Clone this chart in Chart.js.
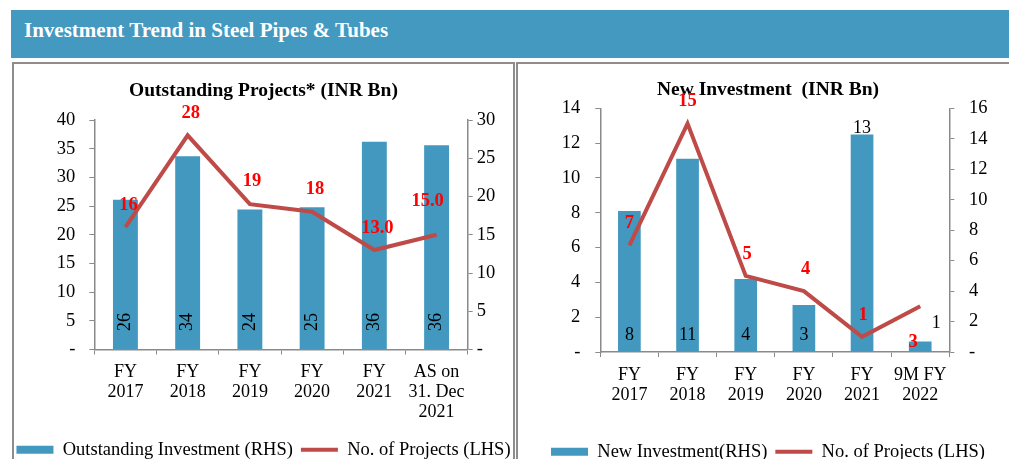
<!DOCTYPE html>
<html>
<head>
<meta charset="utf-8">
<script src="https://cdn.jsdelivr.net/npm/chart.js@4.4.1/dist/chart.umd.min.js"></script>
<style>
html,body{margin:0;padding:0;background:#fff;overflow:hidden;}
body{width:1009px;height:459px;position:relative;font-family:"Liberation Serif","Times New Roman",serif;}
#hdr{position:absolute;left:11px;top:10px;width:1000px;height:48px;background:#4399BF;}
#hdr span{position:absolute;left:13px;top:0;line-height:40px;font-size:21px;font-weight:bold;color:#fff;white-space:nowrap;}
.panel{position:absolute;top:62px;height:420px;border:2px solid #8d8d8d;box-sizing:border-box;}
#p1{left:12px;width:503px;}
#p2{left:516px;width:520px;}
canvas{position:absolute;top:64px;}
#c1{left:2px;}
#c2{left:518px;}
</style>
</head>
<body>
<div id="hdr"><span>Investment Trend in Steel Pipes &amp; Tubes</span></div>
<div class="panel" id="p1"></div>
<div class="panel" id="p2"></div>
<canvas id="c1" width="523" height="405"></canvas>
<canvas id="c2" width="500" height="407"></canvas>
<script>
// ---------- data ----------
const outstandingCategories = [['FY','2017'],['FY','2018'],['FY','2019'],['FY','2020'],['FY','2021'],['AS on','31. Dec','2021']];
const outstandingInvestment = [26.1, 33.7, 24.4, 24.8, 36.2, 35.6];
const outstandingProjects = [16, 28, 19, 18, 13, 15];
const outstandingProjectLabels = ['16','28','19','18','13.0','15.0'];

const newCategories = [['FY','2017'],['FY','2018'],['FY','2019'],['FY','2020'],['FY','2021'],['9M FY','2022']];
const newInvestment = [8.1, 11.1, 4.2, 2.7, 12.5, 0.6];
const newProjects = [7, 15, 5, 4, 1, 3];
const newProjectLabels = ['7','15','5','4','1','3'];

// ---------- styles ----------
const FONT = '"Liberation Serif","Times New Roman",serif';
const BAR = '#4298BE';
const LINE = '#BE4B48';
const GRID = '#8a8a8a';
const TXT = '#000';

const valueLabels = {
  id: 'valueLabels',
  afterDatasetsDraw(chart, args, opts) {
    const ctx = chart.ctx;
    (opts.items || []).forEach(item => {
      const meta = chart.getDatasetMeta(item.dataset);
      ctx.save();
      ctx.font = item.font;
      ctx.fillStyle = item.color;
      ctx.textAlign = 'center';
      ctx.textBaseline = 'middle';
      meta.data.forEach((el, i) => {
        const text = item.texts[i];
        const place = item.place[i];
        if (place.mode === 'rot') {
          ctx.save();
          ctx.translate(el.x + place.dx, el.base - place.dy);
          ctx.rotate(-Math.PI / 2);
          ctx.fillText(text, 0, 0);
          ctx.restore();
        } else if (place.mode === 'base') {
          ctx.fillText(text, el.x + place.dx, el.base - place.dy);
        } else {
          ctx.fillText(text, el.x + place.dx, el.y + place.dy);
        }
      });
      ctx.restore();
    });
  }
};

function yTick(v) { return v === 0 ? '-' : v; }

function legendLabels(chart) {
  return chart.data.datasets.map((ds, i) => ({
    text: ds.label,
    datasetIndex: i,
    fillStyle: ds.type === 'bar' ? ds.backgroundColor : 'rgba(0,0,0,0)',
    strokeStyle: ds.type === 'bar' ? ds.backgroundColor : ds.borderColor,
    lineWidth: ds.type === 'bar' ? 0 : 4,
    pointStyle: ds.type === 'bar' ? 'rect' : 'line',
    fontColor: TXT,
    hidden: false
  }));
}

function buildChart(id, cfg) {
  return new Chart(document.getElementById(id), {
    data: {
      labels: cfg.categories,
      datasets: [
        { type: 'bar', label: cfg.barLabel, data: cfg.bars, yAxisID: 'yL', backgroundColor: BAR,
          borderWidth: 0, barPercentage: cfg.barPct, categoryPercentage: 1, order: 2 },
        { type: 'line', label: 'No. of Projects (LHS)', data: cfg.line, yAxisID: 'yR', borderColor: LINE,
          backgroundColor: LINE, borderWidth: 4, pointRadius: 0, tension: 0, fill: false, order: 1 }
      ]
    },
    options: {
      responsive: false, animation: false,
      layout: { padding: 0 },
      plugins: {
        title: { display: true, text: cfg.title, color: TXT,
          font: { family: FONT, size: 19.5, weight: 'bold', lineHeight: 1.2 },
          padding: cfg.titlePad },
        legend: { position: 'bottom',
          labels: { usePointStyle: true, pointStyleWidth: 37, boxHeight: 8, padding: 8,
            color: TXT, font: { family: FONT, size: 18.5 }, generateLabels: legendLabels } },
        tooltip: { enabled: false },
        valueLabels: { items: cfg.labelItems }
      },
      scales: {
        x: {
          grid: { drawOnChartArea: false, drawTicks: true, tickLength: 5, color: GRID, offset: true },
          border: { color: GRID, width: 1.5 },
          ticks: { font: { family: FONT, size: 18, lineHeight: 1.11 }, color: TXT, padding: 8,
                   maxRotation: 0, autoSkip: false },
          afterFit(s) { s.height = cfg.xHeight; }
        },
        yL: {
          position: 'left', min: 0, max: cfg.lMax,
          ticks: { stepSize: cfg.lStep, callback: yTick, font: { family: FONT, size: 18.5 }, color: TXT, padding: cfg.lPad },
          grid: { drawOnChartArea: false, tickLength: 5, color: GRID },
          border: { color: GRID, width: 1.5 },
          afterFit(s) { s.width = cfg.lWidth; }
        },
        yR: {
          position: 'right', min: 0, max: cfg.rMax,
          ticks: { stepSize: cfg.rStep, callback: yTick, font: { family: FONT, size: 18.5 }, color: TXT, padding: cfg.rPad },
          grid: { drawOnChartArea: false, tickLength: 5, color: GRID },
          border: { color: GRID, width: 1.5 },
          afterFit(s) { s.width = cfg.rWidth; }
        }
      }
    },
    plugins: [valueLabels]
  });
}

const rotPlace = { mode: 'rot', dx: 0, dy: 27 };
buildChart('c1', {
  categories: outstandingCategories,
  bars: outstandingInvestment,
  line: outstandingProjects,
  barLabel: 'Outstanding Investment (RHS)',
  title: 'Outstanding Projects* (INR Bn)',
  titlePad: { top: 14.8, bottom: 17.8 },
  barPct: 0.4,
  xHeight: 83,
  lMax: 40, lStep: 5, lPad: 14, lWidth: 92.3,
  rMax: 30, rStep: 5, rPad: 4, rWidth: 57.3,
  labelItems: [
    { dataset: 0, font: '18px ' + FONT, color: TXT,
      texts: outstandingInvestment.map(v => String(Math.round(v))),
      place: outstandingInvestment.map(() => rotPlace) },
    { dataset: 1, font: 'bold 18.5px ' + FONT, color: '#FF0000',
      texts: outstandingProjectLabels,
      place: [ {dx:3,dy:-22},{dx:3,dy:-22},{dx:2,dy:-23},{dx:3,dy:-23},{dx:3,dy:-22},{dx:-9,dy:-34} ] }
  ]
});

buildChart('c2', {
  categories: newCategories,
  bars: newInvestment,
  line: newProjects,
  barLabel: 'New Investment(RHS)',
  title: 'New Investment  (INR Bn)',
  titlePad: { top: 13.8, bottom: 7.1 },
  barPct: 0.39,
  xHeight: 82.5,
  lMax: 14, lStep: 2, lPad: 15, lWidth: 82.3,
  rMax: 16, rStep: 2, rPad: 14.7, rWidth: 68.7,
  labelItems: [
    { dataset: 0, font: '18px ' + FONT, color: TXT,
      texts: newInvestment.map(v => String(Math.round(v))),
      place: [ {mode:'base',dx:0,dy:16.7},{mode:'base',dx:0,dy:16.7},{mode:'base',dx:0,dy:16.7},
               {mode:'base',dx:0,dy:16.7},{mode:'top',dx:0,dy:-6},{mode:'base',dx:16,dy:28.7} ] },
    { dataset: 1, font: 'bold 18.5px ' + FONT, color: '#FF0000',
      texts: newProjectLabels,
      place: [ {dx:0,dy:-22},{dx:0,dy:-22},{dx:1.5,dy:-22},{dx:1.7,dy:-22},{dx:1,dy:-22},{dx:-7,dy:35.6} ] }
  ]
});
</script>
</body>
</html>
